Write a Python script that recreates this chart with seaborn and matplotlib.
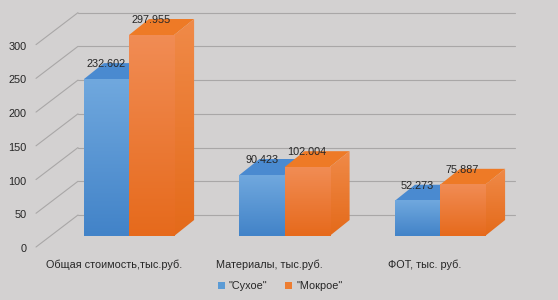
import numpy as np
import pandas as pd
import seaborn as sns
import matplotlib
matplotlib.use("Agg")
import matplotlib.pyplot as plt
from matplotlib.patches import Polygon, Patch
from matplotlib.lines import Line2D
import matplotlib.transforms as mt

# ---- data ----
categories = ["Общая стоимость,тыс.руб.", "Материалы, тыс.руб.", "ФОТ, тыс. руб."]
series_names = ['"Сухое"', '"Мокрое"']
dry_values = [232.602, 90.423, 52.273]
wet_values = [297.955, 102.004, 75.887]
y_ticks = [0, 50, 100, 150, 200, 250, 300]

BG = "#d3d1d1"
GRID = "#a9a7a7"
TXT = "#262626"
FS = 7.8

front_top = ["#70a8de", "#f18c54"]
front_bot = ["#4283c8", "#e66a1c"]
side_top = ["#5e9ad8", "#f08a48"]
side_bot = ["#3f7fc3", "#e46a1a"]
top_col = ["#4a8ad0", "#ee7a26"]
legend_col = ["#5b9bd5", "#ed7d31"]

sns.set_theme(style="white")
plt.rcParams["font.family"] = ["Liberation Sans", "DejaVu Sans"]

df = pd.DataFrame({
    "category": categories * 2,
    "series": [series_names[0]] * len(categories) + [series_names[1]] * len(categories),
    "value": dry_values + wet_values,
})

W, H = 558, 300
fig = plt.figure(figsize=(W / 100, H / 100), dpi=100, facecolor=BG)
ax = fig.add_axes([51.25 / W, 64 / H, 466.5 / W, 222.6 / H])
ax.set_facecolor("none")

sns.barplot(data=df, x="category", y="value", hue="series", order=categories,
            hue_order=series_names, palette=legend_col, width=0.58, gap=0,
            saturation=1, legend=False, ax=ax, linewidth=0, zorder=2)
ax.set_xlim(-0.5, 2.5)
ax.set_ylim(0, 330)
for s in ax.spines.values():
    s.set_visible(False)
ax.set_xlabel("")
ax.set_ylabel("")
ax.set_yticks(y_ticks)
ax.set_yticklabels([str(v) for v in y_ticks])
ax.tick_params(axis="y", length=0, pad=18, labelsize=FS, labelcolor=TXT)
ax.tick_params(axis="x", length=0, pad=17, labelsize=FS, labelcolor=TXT)
for lab in ax.get_yticklabels():
    lab.set_transform(lab.get_transform() + mt.ScaledTranslation(0, -12 / 100, fig.dpi_scale_trans))
for lab in ax.get_xticklabels():
    lab.set_transform(lab.get_transform() + mt.ScaledTranslation(-15 / 100, 0, fig.dpi_scale_trans))

fig.canvas.draw()
ident = mt.IdentityTransform()

def disp(x, y):
    return ax.transData.transform((x, y))

def grad_img(c_top, c_bot, n=64):
    c1 = np.array(matplotlib.colors.to_rgb(c_top))
    c2 = np.array(matplotlib.colors.to_rgb(c_bot))
    t = np.linspace(0, 1, n)[:, None, None]
    return c1 * (1 - t) + c2 * t

# walls: back gridlines + left diagonals
x0l, x1l = ax.get_xlim()
x_left = x0l - 0.008
x_right = x1l - 0.2
WDX, WDY = 28, 21
for v in y_ticks:
    a = disp(x_left, v)
    b = disp(x_right, v)
    ax.add_line(Line2D([a[0] + WDX, b[0] + WDX], [a[1] + WDY, b[1] + WDY],
                       transform=ident, color=GRID, lw=0.8, zorder=0.5, clip_on=False))
    ax.add_line(Line2D([a[0] - 14, a[0] + WDX], [a[1] - 11, a[1] + WDY],
                       transform=ident, color=GRID, lw=0.8, zorder=0.5, clip_on=False))

# 3D bars
BDX, BDY = 20, 16
inv = ax.transData.inverted()
for i, cont in enumerate(ax.containers):
    for p in cont.patches:
        x0, y0 = p.get_x(), p.get_y()
        w, h = p.get_width(), p.get_height()
        fl = disp(x0, y0 + h)
        fr = disp(x0 + w, y0 + h)
        br = disp(x0 + w, y0)
        top = Polygon([fl, fr, (fr[0] + BDX, fr[1] + BDY), (fl[0] + BDX, fl[1] + BDY)],
                      closed=True, transform=ident, facecolor=top_col[i], edgecolor="none",
                      zorder=1.5, clip_on=False)
        ax.add_patch(top)
        side = Polygon([br, fr, (fr[0] + BDX, fr[1] + BDY), (br[0] + BDX, br[1] + BDY)],
                       closed=True, transform=ident, facecolor="none", edgecolor="none",
                       zorder=1.5, clip_on=False)
        ax.add_patch(side)
        sx1, sy1 = inv.transform((fr[0] + BDX, fr[1] + BDY))
        im = ax.imshow(grad_img(side_top[i], side_bot[i]), extent=(x0 + w, sx1, y0, sy1),
                       aspect="auto", origin="upper", zorder=1.5, interpolation="bilinear")
        im.set_clip_path(side)
        ax.imshow(grad_img(front_top[i], front_bot[i]), extent=(x0, x0 + w, y0, y0 + h),
                  aspect="auto", origin="upper", zorder=2.5, interpolation="bilinear")
        ax.annotate(f"{h:.3f}", (x0 + w / 2, y0 + h), xytext=(0, 15 * 0.72),
                    textcoords="offset points", ha="center", va="center",
                    fontsize=FS, color=TXT, zorder=5)

ax.set_xlim(x0l, x1l)
ax.set_ylim(0, 330)

handles = [Patch(facecolor=c, edgecolor="none") for c in legend_col]
fig.legend(handles=handles, labels=series_names, loc="center",
           bbox_to_anchor=(280 / W, 1 - 286 / H), ncol=2, frameon=False,
           handlelength=0.65, handleheight=0.65, handletextpad=0.4,
           columnspacing=1.6, fontsize=FS, labelcolor=TXT)

fig.savefig("out.png", dpi=100, facecolor=BG)
